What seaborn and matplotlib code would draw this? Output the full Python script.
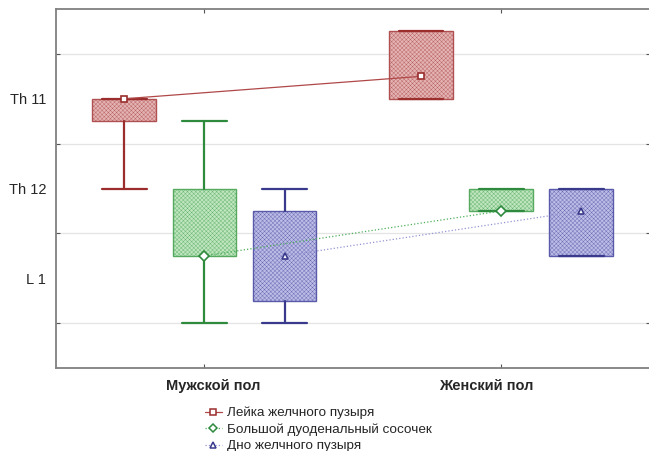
import numpy as np
import pandas as pd
import matplotlib
matplotlib.use("Agg")
import matplotlib.pyplot as plt
import matplotlib.transforms as mtransforms
from matplotlib.lines import Line2D
import seaborn as sns

# vertebra levels on a numeric scale: Th 11 = 11, Th 12 = 12, L 1 = 13
groups = ["Мужской пол", "Женский пол"]
series = ["Лейка желчного пузыря", "Большой дуоденальный сосочек", "Дно желчного пузыря"]
level_values = [11, 12, 13]
level_labels = ["Th 11", "Th 12", "L 1"]

medians = {
    "Лейка желчного пузыря": [11.0, 10.75],
    "Большой дуоденальный сосочек": [12.75, 12.25],
    "Дно желчного пузыря": [12.75, 12.25],
}
q1 = {
    "Лейка желчного пузыря": [11.0, 10.25],
    "Большой дуоденальный сосочек": [12.0, 12.0],
    "Дно желчного пузыря": [12.25, 12.0],
}
q3 = {
    "Лейка желчного пузыря": [11.25, 11.0],
    "Большой дуоденальный сосочек": [12.75, 12.25],
    "Дно желчного пузыря": [13.25, 12.75],
}
mins = {
    "Лейка желчного пузыря": [11.0, 10.25],
    "Большой дуоденальный сосочек": [11.25, 12.0],
    "Дно желчного пузыря": [12.0, 12.0],
}
maxs = {
    "Лейка желчного пузыря": [12.0, 11.0],
    "Большой дуоденальный сосочек": [13.5, 12.25],
    "Дно желчного пузыря": [13.5, 12.75],
}

edge_colors = ["#b05050", "#55aa60", "#5a5aaa"]
whisk_colors = ["#9b2d2d", "#2e8b3e", "#3a3a8c"]
fill_colors = ["#e4b4b4", "#bfe6bf", "#bcbce6"]
line_colors = ["#b04848", "#4caf5a", "#9494d4"]
markers = ["s", "D", "^"]
linestyles = ["-", ":", ":"]

sns.set_style("white")
plt.rcParams["font.family"] = ["Liberation Sans", "DejaVu Sans"]
plt.rcParams["hatch.linewidth"] = 0.25

fig = plt.figure(figsize=(6.49, 4.51), dpi=100)
ax = fig.add_axes([0.0863, 0.184, 0.9147, 0.796])

offset = 0.27
box_w = 0.215
for k, s in enumerate(series):
    stats = []
    for g in range(len(groups)):
        stats.append({"med": medians[s][g], "q1": q1[s][g], "q3": q3[s][g],
                      "whislo": mins[s][g], "whishi": maxs[s][g], "fliers": []})
    pos = [g + (k - 1) * offset for g in range(len(groups))]
    ax.bxp(stats, positions=pos, widths=box_w, capwidths=0.15, patch_artist=True,
           showfliers=False, manage_ticks=False,
           boxprops=dict(facecolor=fill_colors[k], edgecolor=edge_colors[k],
                         linewidth=1.0, hatch="xxxxxxxx"),
           whiskerprops=dict(color=whisk_colors[k], linewidth=1.6),
           capprops=dict(color=whisk_colors[k], linewidth=1.6),
           medianprops=dict(linewidth=0), zorder=2)

rows = []
for s in series:
    for g, name in enumerate(groups):
        rows.append({"group": name, "series": s, "median": medians[s][g]})
df = pd.DataFrame(rows)

n_before = len(ax.lines)
sns.pointplot(data=df, x="group", y="median", hue="series", order=groups,
              hue_order=series, palette=line_colors, dodge=2 * offset,
              markers=markers, linestyles=linestyles, errorbar=None,
              markersize=5, linewidth=0.9, markeredgewidth=1.2,
              markerfacecolor="white", legend=False, ax=ax)
for k, ln in enumerate(ax.lines[n_before:]):
    ln.set_markeredgecolor(whisk_colors[k])
    ln.set_zorder(4)

ax.set_xlim(-0.5, 1.5)
ax.set_ylim(14, 10)
ax.set_xlabel("")
ax.set_ylabel("")

# grid lines between the levels, labels on the levels
ax.set_yticks([10.5, 11.5, 12.5, 13.5])
ax.set_yticklabels([])
ax.set_yticks(level_values, minor=True)
ax.set_yticklabels(level_labels, minor=True, fontsize=10.5)
ax.tick_params(axis="y", which="minor", length=0, pad=7)
ax.tick_params(axis="y", which="major", direction="in", length=3, left=True,
               right=True, color="#555555")
ax.grid(axis="y", which="major", color="#e4e4e4", linewidth=0.9)
ax.set_axisbelow(True)

ax.set_xticks(range(len(groups)))
ax.set_xticklabels(groups, fontsize=10.5, fontweight="bold")
ax.tick_params(axis="x", direction="in", length=3, bottom=True, top=True,
               color="#555555", pad=8)
shifts = [9, -15]
for lab, dx in zip(ax.get_xticklabels(), shifts):
    lab.set_transform(lab.get_transform() + mtransforms.ScaledTranslation(dx / 100, 0, fig.dpi_scale_trans))

for side in ["left", "right", "top", "bottom"]:
    ax.spines[side].set_visible(True)
    ax.spines[side].set_color("#808080")
    ax.spines[side].set_linewidth(1.3)

handles = [Line2D([], [], color=line_colors[k], linestyle=linestyles[k], linewidth=0.9,
                  marker=markers[k], markersize=4.5, markerfacecolor="white",
                  markeredgecolor=whisk_colors[k], markeredgewidth=1.1)
           for k in range(len(series))]
fig.legend(handles, series, loc="upper left", bbox_to_anchor=(0.305, 0.113),
           frameon=False, fontsize=9.7, handlelength=1.25, handletextpad=0.4,
           labelspacing=0.3, borderpad=0)

fig.savefig("out.png", dpi=100)
